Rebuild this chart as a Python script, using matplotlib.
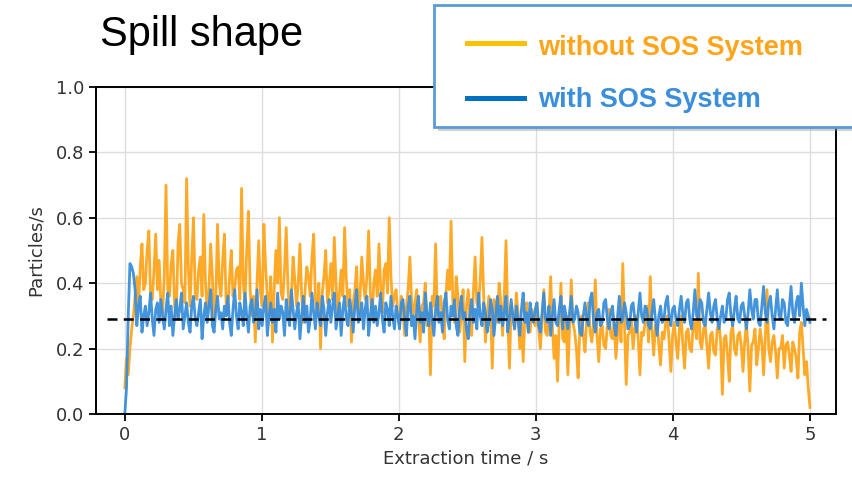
import numpy as np
import matplotlib
matplotlib.use("Agg")
import matplotlib.pyplot as plt
from matplotlib.patches import Rectangle
from matplotlib.lines import Line2D

# Spill rate, 20 values per quarter second from 0 s to 5 s
t_start, t_end = 0.0, 5.0
without_sos = [
    0.08, 0.17, 0.12, 0.2, 0.26, 0.3, 0.36, 0.42, 0.33, 0.45, 0.52, 0.38, 0.4, 0.5, 0.56, 0.36, 0.35, 0.44, 0.55, 0.38,
    0.47, 0.34, 0.31, 0.42, 0.70, 0.38, 0.36, 0.46, 0.5, 0.33, 0.3, 0.52, 0.58, 0.4, 0.38, 0.34, 0.72, 0.45, 0.33, 0.48,
    0.6, 0.37, 0.35, 0.44, 0.48, 0.36, 0.61, 0.4, 0.32, 0.38, 0.52, 0.42, 0.29, 0.35, 0.58, 0.4, 0.36, 0.47, 0.55, 0.34,
    0.31, 0.42, 0.5, 0.36, 0.38, 0.44, 0.45, 0.35, 0.69, 0.4, 0.34, 0.5, 0.62, 0.38, 0.3, 0.36, 0.22, 0.4, 0.53, 0.37,
    0.33, 0.58, 0.45, 0.36, 0.3, 0.42, 0.22, 0.38, 0.5, 0.4, 0.6, 0.37, 0.35, 0.44, 0.57, 0.39, 0.3, 0.36, 0.48, 0.41,
    0.33, 0.4, 0.52, 0.36, 0.28, 0.38, 0.45, 0.42, 0.36, 0.48, 0.55, 0.35, 0.31, 0.4, 0.2, 0.37, 0.42, 0.5, 0.34, 0.39,
    0.46, 0.35, 0.54, 0.4, 0.3, 0.37, 0.44, 0.36, 0.57, 0.41, 0.33, 0.38, 0.22, 0.34, 0.38, 0.45, 0.3, 0.36, 0.48, 0.4,
    0.35, 0.42, 0.56, 0.37, 0.29, 0.4, 0.44, 0.36, 0.52, 0.39, 0.31, 0.44, 0.46, 0.37, 0.60, 0.42, 0.33, 0.36, 0.38, 0.3,
    0.27, 0.36, 0.32, 0.24, 0.33, 0.38, 0.48, 0.35, 0.3, 0.34, 0.38, 0.29, 0.22, 0.33, 0.34, 0.4, 0.27, 0.31, 0.12, 0.36,
    0.33, 0.52, 0.3, 0.35, 0.36, 0.28, 0.23, 0.36, 0.44, 0.38, 0.59, 0.35, 0.28, 0.42, 0.36, 0.25, 0.3, 0.38, 0.16, 0.33,
    0.38, 0.3, 0.24, 0.37, 0.48, 0.34, 0.33, 0.41, 0.54, 0.36, 0.22, 0.3, 0.36, 0.32, 0.14, 0.35, 0.32, 0.28, 0.4, 0.34,
    0.24, 0.36, 0.53, 0.3, 0.14, 0.33, 0.3, 0.26, 0.37, 0.31, 0.2, 0.28, 0.16, 0.3, 0.34, 0.25, 0.25, 0.32, 0.29, 0.27,
    0.34, 0.26, 0.2, 0.29, 0.38, 0.25, 0.24, 0.3, 0.42, 0.27, 0.17, 0.24, 0.1, 0.28, 0.4, 0.23, 0.22, 0.3, 0.12, 0.26,
    0.41, 0.28, 0.25, 0.2, 0.11, 0.27, 0.3, 0.24, 0.19, 0.29, 0.34, 0.25, 0.22, 0.28, 0.41, 0.24, 0.16, 0.26, 0.27, 0.21,
    0.2, 0.27, 0.32, 0.24, 0.23, 0.28, 0.17, 0.25, 0.3, 0.22, 0.46, 0.27, 0.09, 0.24, 0.25, 0.29, 0.2, 0.26, 0.3, 0.23,
    0.12, 0.25, 0.24, 0.28, 0.33, 0.22, 0.42, 0.26, 0.18, 0.27, 0.28, 0.21, 0.15, 0.25, 0.23, 0.28, 0.3, 0.22, 0.13, 0.24,
    0.28, 0.22, 0.17, 0.26, 0.3, 0.21, 0.14, 0.25, 0.26, 0.2, 0.19, 0.27, 0.28, 0.23, 0.43, 0.22, 0.2, 0.26, 0.27, 0.21,
    0.14, 0.24, 0.25, 0.19, 0.18, 0.26, 0.28, 0.22, 0.06, 0.23, 0.24, 0.18, 0.1, 0.25, 0.27, 0.2, 0.18, 0.24, 0.25, 0.21,
    0.13, 0.22, 0.28, 0.2, 0.07, 0.21, 0.22, 0.26, 0.15, 0.2, 0.26, 0.22, 0.12, 0.23, 0.38, 0.2, 0.16, 0.22, 0.24, 0.19,
    0.11, 0.2, 0.2, 0.24, 0.14, 0.21, 0.22, 0.18, 0.13, 0.22, 0.2, 0.17, 0.11, 0.25, 0.28, 0.2, 0.12, 0.16, 0.08, 0.02,
]
with_sos = [
    0.0, 0.08, 0.3, 0.46, 0.45, 0.43, 0.38, 0.27, 0.33, 0.36, 0.25, 0.3, 0.33, 0.27, 0.31, 0.37, 0.29, 0.24, 0.32, 0.34,
    0.28, 0.35, 0.3, 0.26, 0.32, 0.37, 0.27, 0.33, 0.24, 0.3, 0.35, 0.29, 0.32, 0.37, 0.26, 0.3, 0.34, 0.28, 0.25, 0.33,
    0.36, 0.29, 0.27, 0.31, 0.35, 0.23, 0.3, 0.34, 0.28, 0.33, 0.38, 0.27, 0.25, 0.32, 0.36, 0.29, 0.31, 0.26, 0.33, 0.3,
    0.36, 0.28, 0.24, 0.32, 0.38, 0.3, 0.26, 0.34, 0.31, 0.27, 0.37, 0.3, 0.25, 0.33, 0.35, 0.28, 0.3, 0.38, 0.26, 0.32,
    0.27, 0.33, 0.36, 0.24, 0.3, 0.34, 0.28, 0.32, 0.25, 0.37, 0.29, 0.33, 0.31, 0.24, 0.35, 0.3, 0.27, 0.38, 0.32, 0.26,
    0.31, 0.34, 0.23, 0.3, 0.36, 0.28, 0.33, 0.25, 0.29, 0.37, 0.31, 0.26, 0.34, 0.3, 0.27, 0.36, 0.32, 0.24, 0.31, 0.35,
    0.28, 0.33, 0.37, 0.26, 0.3, 0.34, 0.24, 0.32, 0.36, 0.29, 0.27, 0.35, 0.31, 0.25, 0.33, 0.38, 0.28, 0.3, 0.34, 0.26,
    0.32, 0.36, 0.24, 0.3, 0.35, 0.28, 0.33, 0.27, 0.31, 0.37, 0.29, 0.25, 0.34, 0.32, 0.27, 0.36, 0.3, 0.26, 0.33, 0.3,
    0.26, 0.34, 0.35, 0.29, 0.24, 0.33, 0.36, 0.27, 0.3, 0.23, 0.32, 0.36, 0.28, 0.31, 0.25, 0.37, 0.3, 0.27, 0.34, 0.29,
    0.24, 0.32, 0.36, 0.28, 0.31, 0.25, 0.34, 0.37, 0.29, 0.26, 0.33, 0.3, 0.35, 0.27, 0.24, 0.32, 0.36, 0.29, 0.31, 0.26,
    0.23, 0.31, 0.35, 0.28, 0.32, 0.26, 0.37, 0.3, 0.27, 0.34, 0.31, 0.25, 0.28, 0.35, 0.32, 0.24, 0.3, 0.36, 0.28, 0.33,
    0.27, 0.31, 0.36, 0.25, 0.29, 0.35, 0.3, 0.26, 0.33, 0.29, 0.24, 0.32, 0.37, 0.28, 0.31, 0.25, 0.34, 0.3, 0.28, 0.32,
    0.34, 0.27, 0.25, 0.31, 0.37, 0.29, 0.28, 0.33, 0.24, 0.3, 0.35, 0.28, 0.27, 0.32, 0.36, 0.26, 0.33, 0.3, 0.26, 0.31,
    0.36, 0.28, 0.29, 0.33, 0.31, 0.25, 0.24, 0.3, 0.34, 0.29, 0.27, 0.35, 0.37, 0.28, 0.25, 0.31, 0.32, 0.27, 0.28, 0.34,
    0.35, 0.29, 0.26, 0.31, 0.33, 0.27, 0.24, 0.3, 0.36, 0.28, 0.29, 0.34, 0.31, 0.26, 0.27, 0.33, 0.34, 0.29, 0.25, 0.31,
    0.37, 0.3, 0.28, 0.33, 0.32, 0.27, 0.26, 0.31, 0.35, 0.29, 0.24, 0.3, 0.33, 0.28, 0.29, 0.34, 0.36, 0.3, 0.27, 0.32,
    0.33, 0.29, 0.27, 0.32, 0.36, 0.3, 0.28, 0.34, 0.35, 0.29, 0.26, 0.31, 0.38, 0.3, 0.29, 0.35, 0.34, 0.28, 0.27, 0.32,
    0.37, 0.31, 0.28, 0.33, 0.35, 0.29, 0.26, 0.3, 0.33, 0.28, 0.29, 0.35, 0.37, 0.3, 0.27, 0.32, 0.36, 0.29, 0.28, 0.33,
    0.34, 0.3, 0.26, 0.31, 0.38, 0.32, 0.29, 0.35, 0.35, 0.28, 0.27, 0.33, 0.39, 0.31, 0.28, 0.34, 0.36, 0.3, 0.26, 0.32,
    0.38, 0.3, 0.29, 0.35, 0.34, 0.28, 0.27, 0.33, 0.39, 0.31, 0.28, 0.34, 0.36, 0.3, 0.4, 0.33, 0.27, 0.32, 0.3, 0.28,
]
mean_level = 0.29
mean_from, mean_to = -0.13, 5.12
labels = ["without SOS System", "with SOS System"]

time = np.linspace(t_start, t_end, len(without_sos))

fig = plt.figure(figsize=(8.52, 4.78), dpi=100)
ax = fig.add_axes([0.1127, 0.134, 0.8685, 0.684])

ax.plot(time, without_sos, color="#FFA51C", lw=2.0, alpha=0.95)
ax.plot(time, with_sos, color="#3A8EDB", lw=2.0, alpha=0.95)
ax.hlines(mean_level, mean_from, mean_to, colors="black",
          linestyles=(0, (4, 2.5)), lw=1.8, zorder=5)

ax.set_xlim(-0.21, 5.19)
ax.set_ylim(0, 1.0)
ax.set_xticks([0, 1, 2, 3, 4, 5])
ax.set_yticks([0.0, 0.2, 0.4, 0.6, 0.8, 1.0])
ax.grid(True, color="#dddddd", lw=1)
ax.set_axisbelow(True)
ax.tick_params(labelsize=13, labelcolor="#333333", length=5, width=1.3)
for s in ax.spines.values():
    s.set_linewidth(1.4)
ax.set_xlabel("Extraction time / s", fontsize=13, color="#333333")
ax.set_ylabel("Particles/s", fontsize=13, color="#333333", labelpad=8)

# title and legend box sit on top of the figure like slide overlays
fig.text(100 / 852, 1 - 46 / 478, "Spill shape", fontsize=30,
         family="Liberation Sans", va="baseline", ha="left")

W, H = 852, 478
shadow = Rectangle(((434 + 4) / W, 1 - (127 + 4) / H), 440 / W, 122 / H,
                   transform=fig.transFigure, facecolor="#999999",
                   alpha=0.45, edgecolor="none", zorder=9)
box = Rectangle((434 / W, 1 - 127 / H), 440 / W, 122 / H,
                transform=fig.transFigure, facecolor="white",
                edgecolor="#5B9BD5", lw=2, zorder=10)
fig.patches.extend([shadow, box])

legend_rows = [(labels[0], "#FFC000", "#FFA51C", 43, 55),
               (labels[1], "#0070C0", "#3A8EDB", 98, 107)]
for text, line_c, text_c, ly, base in legend_rows:
    fig.lines.append(Line2D([467 / W, 524 / W], [1 - ly / H, 1 - ly / H],
                            transform=fig.transFigure, color=line_c,
                            lw=3.6, zorder=11))
    fig.text(538 / W, 1 - base / H, text, fontsize=19.5, fontweight="bold",
             family="Liberation Sans", color=text_c, va="baseline",
             ha="left", zorder=11)

fig.savefig("out.png", dpi=100)
